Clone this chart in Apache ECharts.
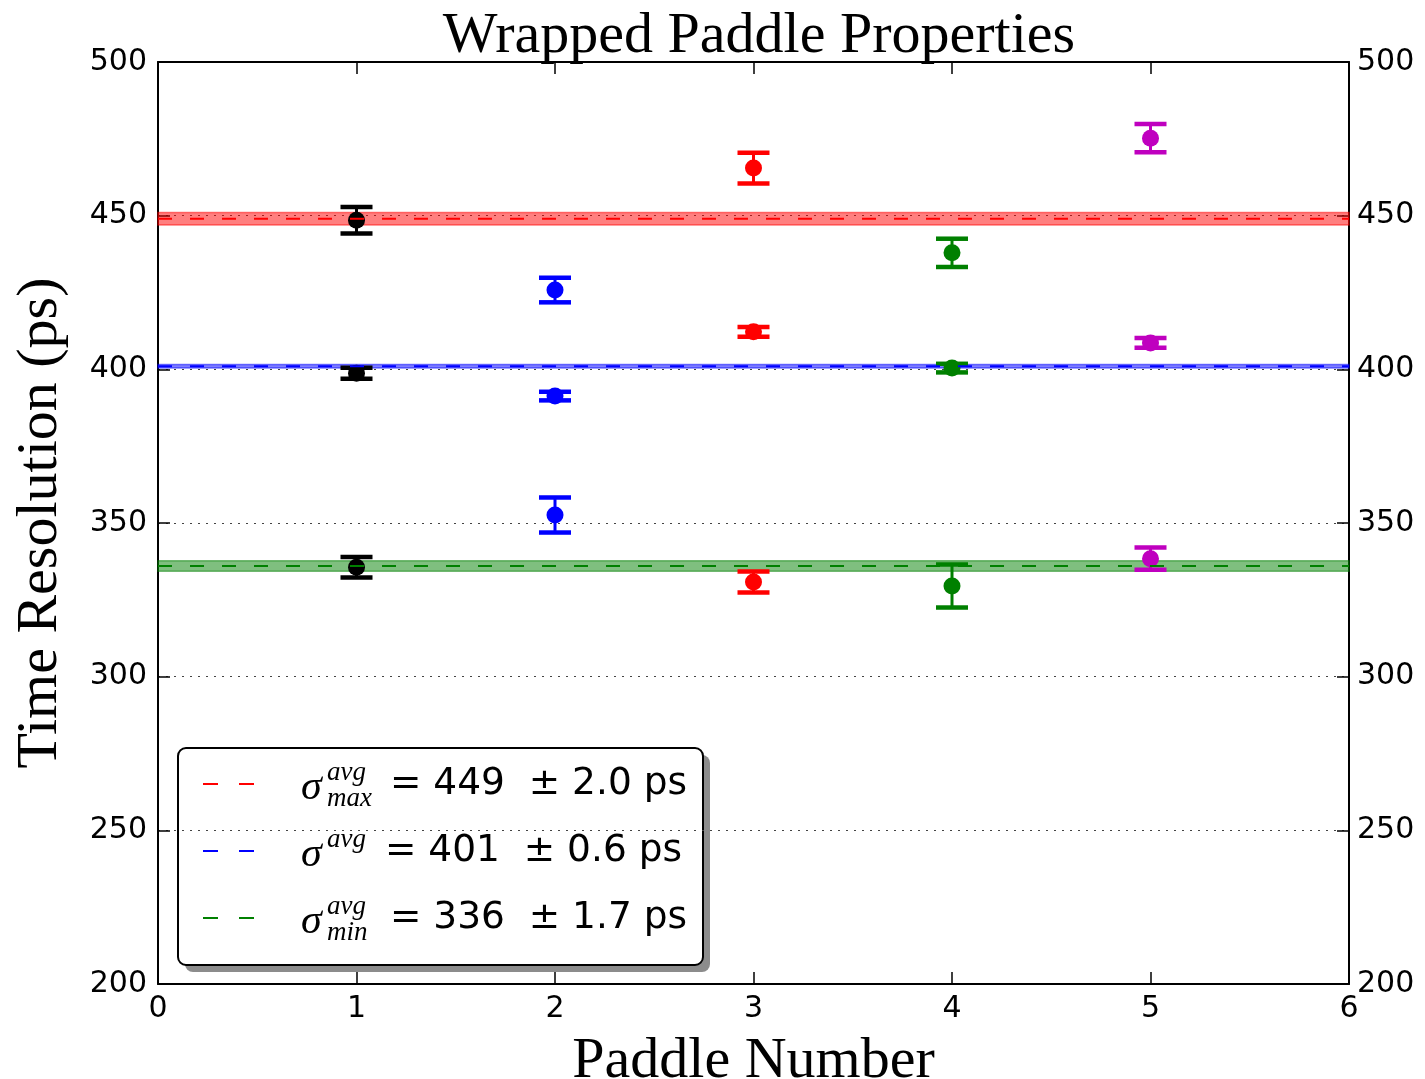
<!DOCTYPE html>
<html><head><meta charset="utf-8">
<script src="https://cdn.jsdelivr.net/npm/echarts@6/dist/echarts.min.js"></script>
<style>html,body{margin:0;padding:0;background:#fff}#c{width:1425px;height:1079px}</style>
</head><body><div id="c"></div><script>
// ---- data ----
const paddles = [1, 2, 3, 4, 5];
const paddleColors = ['#000000', '#0000ff', '#ff0000', '#008000', '#bf00bf'];
const maxVals = [448.5, 425.8, 465.5, 437.9, 475.2];
const maxErrs = [4.3, 4.0, 5.0, 4.6, 4.6];
const midVals = [398.7, 391.3, 412.2, 400.4, 408.6];
const midErrs = [1.8, 1.4, 1.6, 1.4, 1.6];
const minVals = [335.6, 352.6, 330.8, 329.5, 338.4];
const minErrs = [3.3, 5.7, 3.4, 7.0, 3.6];

const avgNames = ['max', '', 'min'];
const avgMeans = [449, 401, 336];
const avgErrs = [2.0, 0.6, 1.7];
const avgColors = ['#ff0000', '#0000ff', '#008000'];

const xMin = 0, xMax = 6, xStep = 1;
const yMin = 200, yMax = 500, yStep = 50;

const titleText = 'Wrapped Paddle Properties';
const xName = 'Paddle Number';
const yName = 'Time Resolution (ps)';

// ---- chart ----
const chart = echarts.init(document.getElementById('c'), null, {renderer: 'canvas'});
const SERIF = '"Liberation Serif", "Times New Roman", serif';
const SANS = '"DejaVu Sans", sans-serif';

function errRender(color) {
  return function (params, api) {
    const x = api.value(0), y = api.value(1), e = api.value(2);
    const c = api.coord([x, y]), t = api.coord([x, y + e]), b = api.coord([x, y - e]);
    const hw = 16;
    return {type: 'group', children: [
      {type: 'line', shape: {x1: c[0], y1: t[1], x2: c[0], y2: b[1]}, style: {stroke: color, lineWidth: 3}},
      {type: 'line', shape: {x1: c[0] - hw, y1: t[1], x2: c[0] + hw, y2: t[1]}, style: {stroke: color, lineWidth: 4.5}},
      {type: 'line', shape: {x1: c[0] - hw, y1: b[1], x2: c[0] + hw, y2: b[1]}, style: {stroke: color, lineWidth: 4.5}},
      {type: 'circle', shape: {cx: c[0], cy: c[1], r: 8.5}, style: {fill: color}}
    ]};
  };
}

const series = [];
// bands
series.push({
  type: 'custom', z: 1, silent: true,
  data: avgMeans.map((m, i) => [xMin, m, avgErrs[i], i]),
  encode: {x: 0, y: 1},
  renderItem: function (params, api) {
    const m = api.value(1), e = api.value(2), i = api.value(3);
    const p1 = api.coord([xMin, m + e]), p2 = api.coord([xMax, m - e]);
    return {type: 'rect', shape: {x: p1[0], y: p1[1], width: p2[0] - p1[0], height: p2[1] - p1[1]},
      style: {fill: avgColors[i], opacity: 0.5, stroke: avgColors[i], lineWidth: 1.5}};
  }
});
// error bar points
paddles.forEach((p, k) => {
  series.push({
    type: 'custom', z: 3, silent: true,
    data: [[p, maxVals[k], maxErrs[k]], [p, midVals[k], midErrs[k]], [p, minVals[k], minErrs[k]]],
    encode: {x: 0, y: 1},
    renderItem: errRender(paddleColors[k])
  });
});
// dashed average lines
series.push({
  type: 'custom', z: 5, silent: true,
  data: avgMeans.map((m, i) => [xMin, m, i]),
  encode: {x: 0, y: 1},
  renderItem: function (params, api) {
    const m = api.value(1), i = api.value(2);
    const p1 = api.coord([xMin, m]), p2 = api.coord([xMax, m]);
    return {type: 'line', shape: {x1: p1[0], y1: p1[1], x2: p2[0], y2: p2[1]},
      style: {stroke: avgColors[i], lineWidth: 2, lineDash: [14, 18]}};
  }
});

const axisLine = {show: true, onZero: false, lineStyle: {color: '#000', width: 2}};
const axisTick = {show: true, inside: true, length: 12, lineStyle: {color: '#000', width: 1.5}};

// legend graphic
const lg = {x: 178, y: 748, w: 525, h: 217};
const rowY = [36, 103, 170];
const legendChildren = [
  {type: 'rect', shape: {x: 7, y: 7, width: lg.w, height: lg.h, r: 8}, style: {fill: '#8c8c8c'}},
  {type: 'rect', shape: {x: 0, y: 0, width: lg.w, height: lg.h, r: 8}, style: {fill: '#fff', stroke: '#000', lineWidth: 2}}
];
const eqX = [212, 207, 212];
avgMeans.forEach((m, i) => {
  const y = rowY[i];
  legendChildren.push(
    {type: 'line', shape: {x1: 25, y1: y, x2: 40, y2: y}, style: {stroke: avgColors[i], lineWidth: 2}},
    {type: 'line', shape: {x1: 61, y1: y, x2: 76, y2: y}, style: {stroke: avgColors[i], lineWidth: 2}},
    {type: 'text', x: 123, y: y + 4, style: {text: 'σ', font: 'italic 42px ' + SERIF, fill: '#000', align: 'left', verticalAlign: 'middle', textAlign: 'left', textVerticalAlign: 'middle'}},
    {type: 'text', x: 149, y: y - 11, style: {text: 'avg', font: 'italic 27px ' + SERIF, fill: '#000', align: 'left', verticalAlign: 'middle', textAlign: 'left', textVerticalAlign: 'middle'}},
    {type: 'text', x: 149, y: y + 15, style: {text: avgNames[i], font: 'italic 27px ' + SERIF, fill: '#000', align: 'left', verticalAlign: 'middle', textAlign: 'left', textVerticalAlign: 'middle'}},
    {type: 'text', x: eqX[i], y: y, style: {text: '= ' + m + '  ± ' + avgErrs[i].toFixed(1) + ' ps', font: '37.5px ' + SANS, fill: '#000', align: 'left', verticalAlign: 'middle', textAlign: 'left', textVerticalAlign: 'middle'}}
  );
});

const option = {
  backgroundColor: '#fff',
  animation: false,
  title: {text: titleText, left: 754, top: 3, textAlign: 'center',
    textStyle: {fontFamily: SERIF, fontSize: 58, fontWeight: 'normal', color: '#000'}},
  grid: {left: 158, right: 76, top: 62, bottom: 95, containLabel: false, outerBoundsMode: 'none'},
  xAxis: [
    {type: 'value', min: xMin, max: xMax, interval: xStep, position: 'bottom',
      axisLine, axisTick, splitLine: {show: false},
      axisLabel: {color: '#000', fontSize: 30, fontFamily: SANS, margin: 10},
      name: xName, nameLocation: 'middle', nameGap: 49,
      nameTextStyle: {fontFamily: SERIF, fontSize: 58, color: '#000'}},
    {type: 'value', min: xMin, max: xMax, interval: xStep, position: 'top',
      axisLine, axisTick, splitLine: {show: false}, axisLabel: {show: false}}
  ],
  yAxis: [
    {type: 'value', min: yMin, max: yMax, interval: yStep, position: 'left',
      axisLine, axisTick,
      splitLine: {show: true, lineStyle: {color: '#444', width: 1.2, type: [2, 6]}},
      axisLabel: {color: '#000', fontSize: 30, fontFamily: SANS, margin: 11},
      name: yName, nameLocation: 'middle', nameGap: 88, nameRotate: 90,
      nameTextStyle: {fontFamily: SERIF, fontSize: 58, color: '#000'}},
    {type: 'value', min: yMin, max: yMax, interval: yStep, position: 'right',
      axisLine, axisTick, splitLine: {show: false},
      axisLabel: {color: '#000', fontSize: 30, fontFamily: SANS, margin: 8}}
  ],
  series: series,
  graphic: [{type: 'group', x: lg.x, y: lg.y, z: 100, children: legendChildren}]
};
chart.setOption(option);
</script></body></html>
